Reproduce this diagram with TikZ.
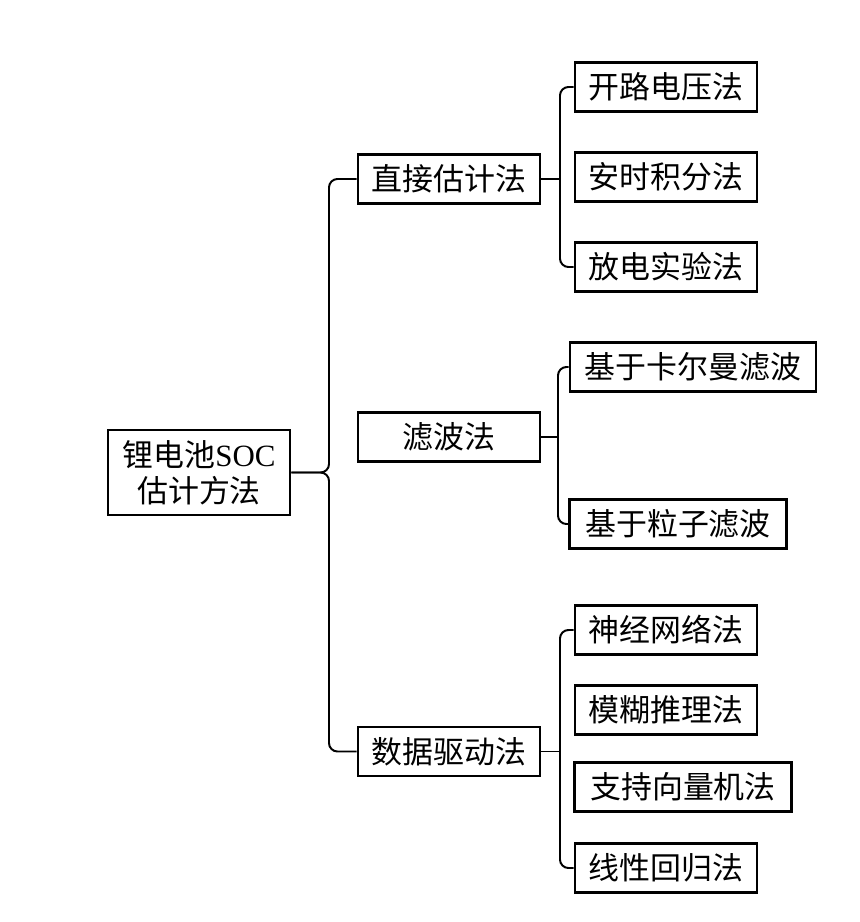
\documentclass[tikz,border=0pt]{standalone}
\usepackage{fontspec}
\setmainfont{Liberation Serif}
\newfontfamily\cjk{Noto Sans CJK SC}

\begin{document}
\begin{tikzpicture}[x=0.025cm,y=-0.025cm,
raiz/.style ={rectangle, draw=black, line width=1.8pt, fill=white, align=center, minimum width=4.55cm, minimum height=2.12cm, font=\fontsize{22}{25.5}\selectfont\cjk},
grup/.style ={rectangle, draw=black, line width=1.8pt, fill=white, minimum width=4.55cm, minimum height=1.22cm, font=\fontsize{22}{25}\selectfont\cjk},
hoja/.style ={rectangle, draw=black, line width=1.8pt, fill=white, minimum width=4.55cm, minimum height=1.22cm, font=\fontsize{22}{25}\selectfont\cjk},
llave/.style ={line width=1.4pt, rounded corners=6pt}
]
\useasboundingbox (0,0) rectangle (860,922);
\draw (199,472.5) node[raiz] (R) {锂电池{\rmfamily SOC}\\估计方法};
\draw (449,179) node[grup] (D) {直接估计法};
\draw (449,437) node[grup] (L) {滤波法};
\draw (449,751.5) node[grup] (S) {数据驱动法};
\draw (666,87) node[hoja] (A1) {开路电压法};
\draw (666,177) node[hoja] (A2) {安时积分法};
\draw (666,267) node[hoja] (A3) {放电实验法};
\draw (693,367) node[hoja, minimum width=6.15cm] (F1) {基于卡尔曼滤波};
\draw (678,524) node[hoja, minimum width=5.42cm] (F2) {基于粒子滤波};
\draw (666,630) node[hoja] (N1) {神经网络法};
\draw (666,710) node[hoja] (N2) {模糊推理法};
\draw (683,787) node[hoja, minimum width=5.42cm] (N3) {支持向量机法};
\draw (666,868) node[hoja] (N4) {线性回归法};
% llaves
\coordinate (rj) at (329,472.5);
\coordinate (dj) at (560,179);
\coordinate (fj) at (558,437);
\coordinate (sj) at (560,751.5);
\draw[llave] (D.west) -| (rj) -- (R.east);
\draw[llave] (S.west) -| (rj) -- (R.east);
\draw[llave] (A1.west) -- (A1.west -| dj) -- (A3.west -| dj) -- (A3.west);
\draw[line width=1.4pt] (D.east) -- (dj);
\draw[llave] (F1.west) -- (F1.west -| fj) -- (F2.west -| fj) -- (F2.west);
\draw[line width=1.4pt] (L.east) -- (fj);
\draw[llave] (N1.west) -- (N1.west -| sj) -- (N4.west -| sj) -- (N4.west);
\draw[line width=1.4pt] (S.east) -- (sj);
\end{tikzpicture}
\end{document}
